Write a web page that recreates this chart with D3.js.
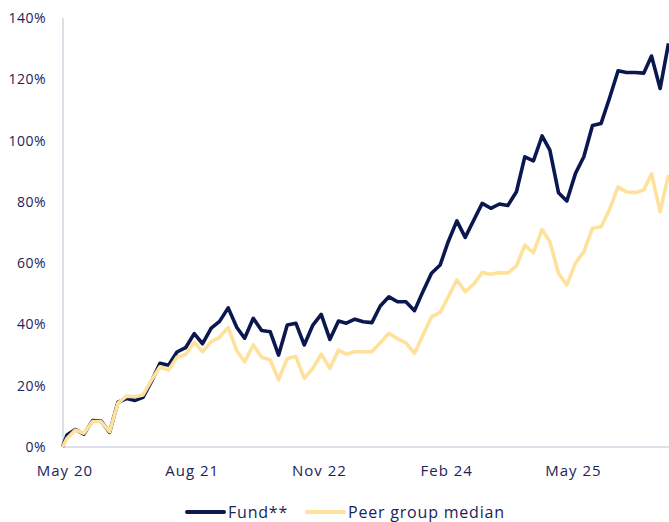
<head>
    <script src="https://d3js.org/d3.v7.min.js"></script>
    <style>
        body { margin: 0; background: #fff; }
        text { font-family: "Open Sans", "Noto Sans", sans-serif; fill: #1b2459; }
    </style>
</head>

<body>
    <div id="chart"></div>
</body>

<script>
    // cumulative performance, %
    let fund = [0, 3.9, 5.7, 4.2, 8.6, 8.5, 4.8, 14.6, 15.8, 15.2, 16.2, 21.5, 27.3, 26.7, 31,
        32.4, 37, 33.7, 38.8, 41, 45.4, 39, 35.5, 42, 38, 37.6, 30, 39.8, 40.4, 33.3,
        39.8, 43.3, 35.1, 41.1, 40.4, 41.7, 40.9, 40.6, 46, 49, 47.4, 47.4, 44.5, 50.7, 56.7,
        59.4, 67, 73.8, 68.4, 74.1, 79.5, 77.9, 79.3, 78.8, 83.3, 94.7, 93.4, 101.5, 96.9, 83,
        80.3, 89.3, 94.7, 104.9, 105.6, 113.8, 122.8, 122.2, 122.2, 122, 127.6, 117, 131.7];
    let peer = [0, 2.8, 5.5, 4.5, 8.3, 8.3, 5, 14.3, 16.6, 16.4, 17, 21.9, 26.2, 25.1, 29.3,
        30.2, 34.2, 31.1, 34.4, 35.8, 39, 31.4, 27.8, 33.3, 29.3, 28.4, 21.9, 28.9, 29.5, 22.4,
        25.7, 30.3, 25.7, 31.6, 30.3, 31.1, 31.1, 31.1, 34, 37.1, 35.3, 34, 30.6, 36.5, 42.5,
        43.9, 49, 54.5, 50.7, 53.2, 56.9, 56.4, 56.9, 56.8, 59.1, 65.9, 63.4, 71, 67, 56.7,
        52.9, 60.1, 63.7, 71.4, 71.9, 77.5, 84.9, 83.3, 83, 83.9, 89.1, 76.8, 88.8];

    // launch date, then month ends
    let dates = [new Date(2020, 4, 15)];
    for (let k = 1; k < fund.length; k++) dates.push(new Date(2020, 4 + k, 0));

    let xTicks = [new Date(2020, 4, 22), new Date(2021, 7, 22), new Date(2022, 10, 22),
        new Date(2024, 1, 22), new Date(2025, 4, 22)];
    let yTicks = [0, 20, 40, 60, 80, 100, 120, 140];

    let legendItems = [
        { name: "Fund**", color: "#0b1850" },
        { name: "Peer group median", color: "#fee29b" }
    ];

    let W = 669, H = 522;
    let svg = d3.select("#chart").append("svg").attr("width", W).attr("height", H);

    let x = d3.scaleTime().domain([dates[0], dates[dates.length - 1]]).range([62.5, 668.5]);
    let y = d3.scaleLinear().domain([0, 140]).range([447, 18]);

    // axis lines
    svg.append("line").attr("x1", 63).attr("x2", 63).attr("y1", 18).attr("y2", 447)
        .attr("stroke", "#d3d7e3").attr("stroke-width", 1.6);
    svg.append("line").attr("x1", 63).attr("x2", W).attr("y1", 447).attr("y2", 447)
        .attr("stroke", "#d3d7e3").attr("stroke-width", 1.6);

    let yAxis = svg.append("g").attr("transform", "translate(46,0)")
        .call(d3.axisLeft(y).tickValues(yTicks).tickSize(0).tickPadding(0).tickFormat(d => d + "%"));
    yAxis.select(".domain").remove();
    yAxis.selectAll("text").attr("font-size", 14).attr("letter-spacing", 0.5).style("font-family", null);

    let xAxis = svg.append("g").attr("transform", "translate(0,465)")
        .call(d3.axisBottom(x).tickValues(xTicks).tickSize(0).tickPadding(0).tickFormat(d3.timeFormat("%b %y")));
    xAxis.select(".domain").remove();
    xAxis.selectAll("text").attr("font-size", 15).attr("letter-spacing", 1).style("font-family", null);

    let line = d3.line().x((d, i) => x(dates[i])).y(d => y(d)).curve(d3.curveLinear);

    [fund, peer].forEach(function (s, i) {
        svg.append("path").datum(s)
            .attr("d", line)
            .attr("fill", "none")
            .attr("stroke", legendItems[i].color)
            .attr("stroke-width", 3.6)
            .attr("stroke-linejoin", "round");
    });

    // legend
    let lx = [187, 307];
    let lg = svg.append("g").attr("transform", "translate(0,512)");
    legendItems.forEach(function (d, i) {
        lg.append("line").attr("x1", lx[i]).attr("x2", lx[i] + 37).attr("y1", 0).attr("y2", 0)
            .attr("stroke", d.color).attr("stroke-width", 4).attr("stroke-linecap", "round");
        lg.append("text").attr("x", lx[i] + 41).attr("y", 0).attr("dy", "0.35em")
            .attr("font-size", 16).attr("letter-spacing", 0.8).text(d.name);
    });
</script>
